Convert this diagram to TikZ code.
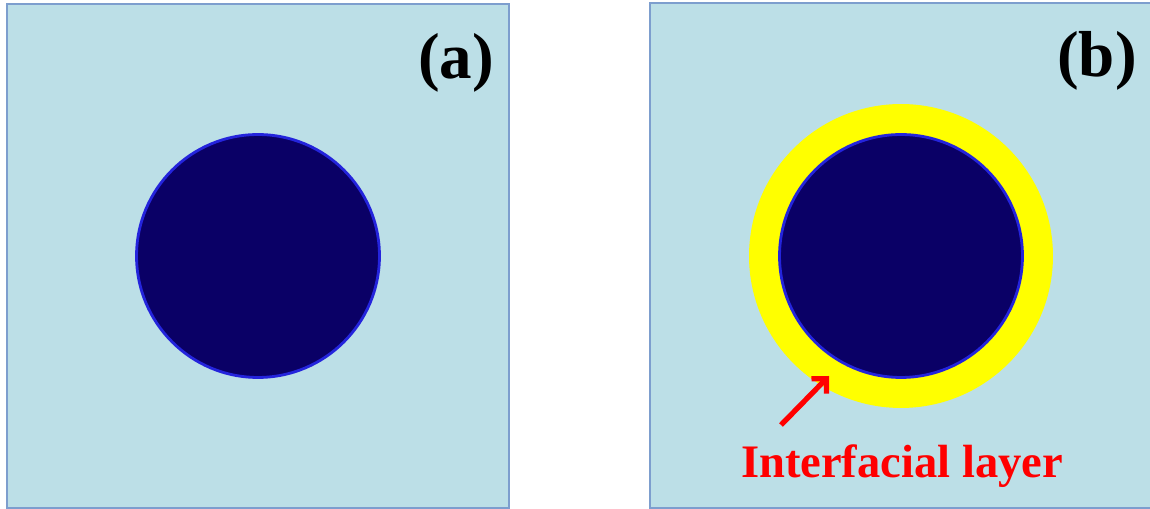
\documentclass[tikz,border=0pt]{standalone}
\usepackage{fontspec}
\setmainfont{Liberation Serif}
\usetikzlibrary{arrows.meta}

\definecolor{matriz}{RGB}{188,223,231}
\definecolor{borda}{RGB}{125,158,206}
\definecolor{particula}{RGB}{10,0,102}
\definecolor{contorno}{RGB}{36,36,220}
\definecolor{camada}{RGB}{255,255,0}

\tikzset{
  quadro/.style={draw=borda, fill=matriz, line width=1.1pt},
  nucleo/.style={circle, draw=contorno, fill=particula, line width=1.6pt,
    minimum size=4.86cm, inner sep=0pt},
  rotulo/.style={font=\bfseries\fontsize{37}{40}\selectfont, inner sep=0pt}
}

\begin{document}
\begin{tikzpicture}[x=0.02cm,y=-0.02cm]
    \useasboundingbox (0,0) rectangle (1150,509);

    % Matrizes
    \draw[quadro] (7,4) rectangle (509,508);
    \draw[quadro] (650,3) rectangle (1170,508);

    % Centros
    \coordinate (O1) at (258,256);
    \coordinate (O2) at (901,256);

    % Camada interfacial
    \node[circle, fill=camada, minimum size=6.08cm, inner sep=0pt] (C) at (O2) {};

    % Particulas
    \node[nucleo] (P1) at (O1) {};
    \node[nucleo] (P2) at (O2) {};

    % Rotulos
    \node[rotulo] (a) at (456,63) {(a)};
    \node[rotulo] (b) at (1097,61) {(b)};

    % Seta e legenda
    \node[anchor=base, red, inner sep=0pt,
      font=\bfseries\fontsize{26.5}{30}\selectfont] (L) at (902,478) {Interfacial layer};
    \coordinate (S) at (781,425);
    \coordinate (T) at (829,376);
    \draw[red, line width=3pt, -{Straight Barb[length=6pt,width=12pt]}] (S) -- (T);
\end{tikzpicture}
\end{document}
